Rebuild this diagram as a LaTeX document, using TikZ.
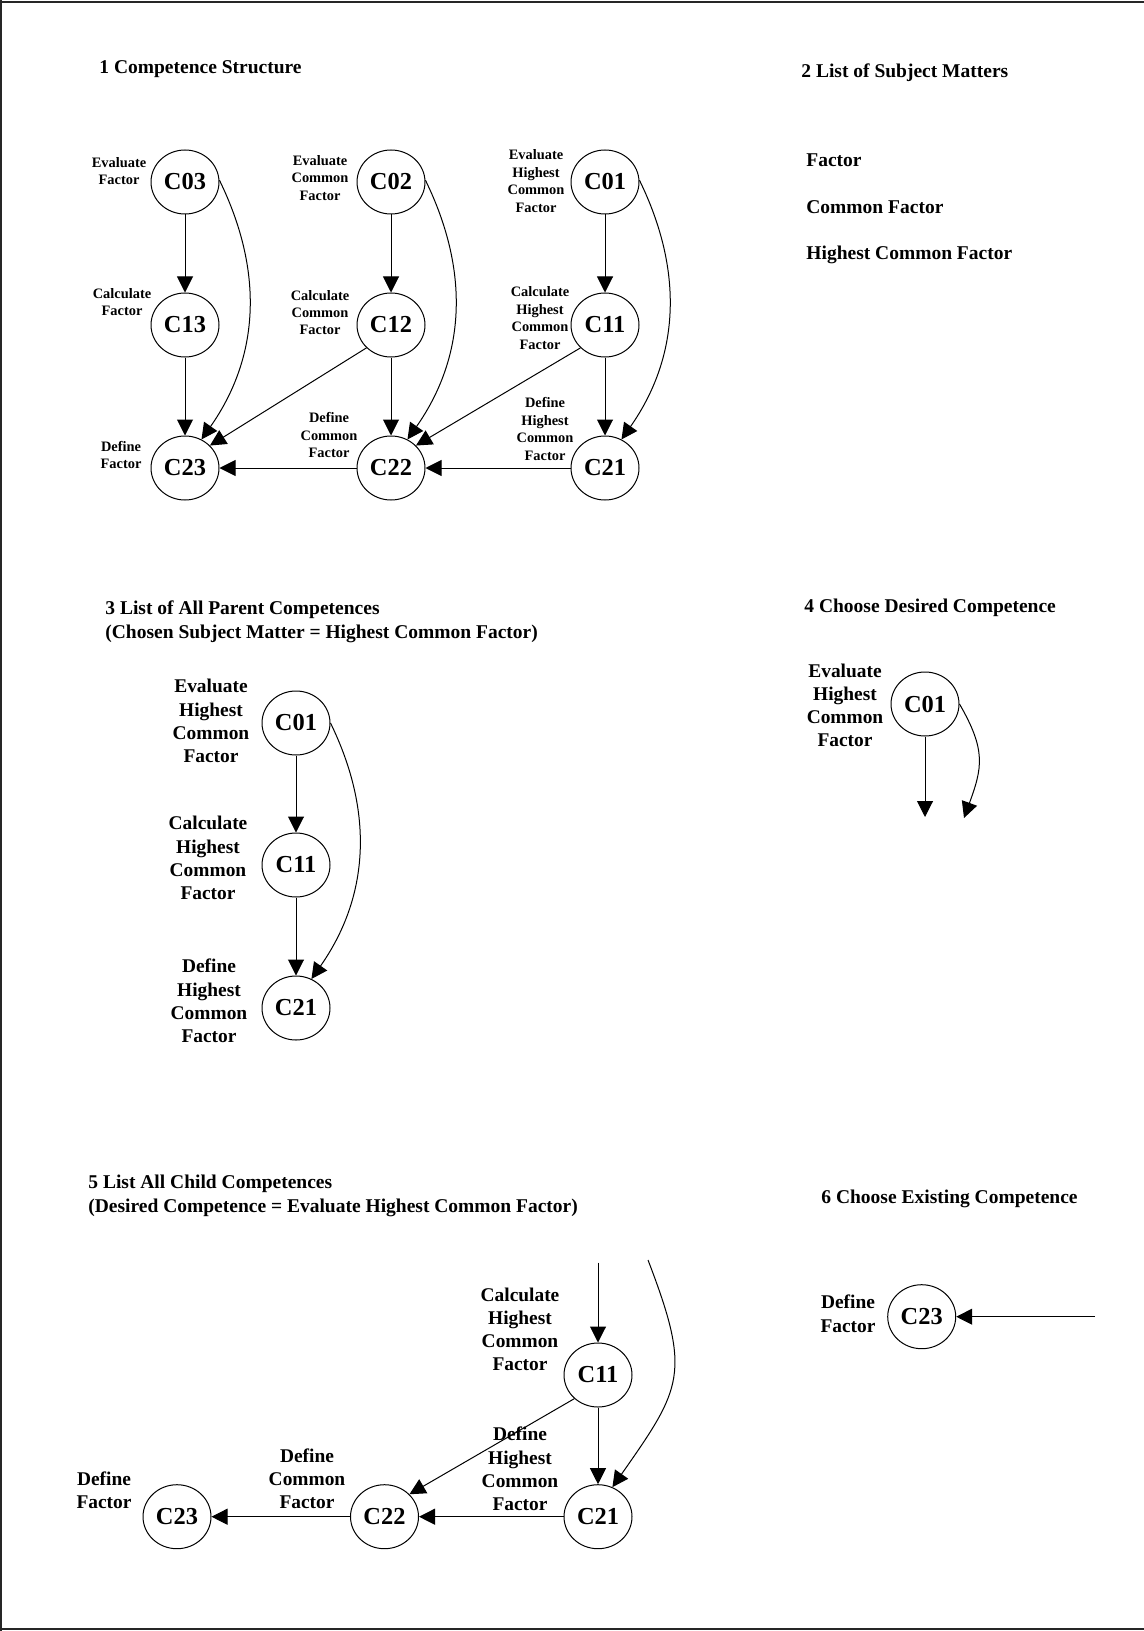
\documentclass[tikz,border=0pt]{standalone}
\usepackage{fontspec}
\setmainfont{Liberation Serif}
\usetikzlibrary{arrows.meta,shapes.geometric}

\begin{document}
\begin{tikzpicture}[x=0.5pt,y=0.5pt,
  comp/.style={ellipse, draw, line width=0.5pt, minimum width=34pt, minimum height=32pt,
    inner sep=0pt, font=\bfseries\fontsize{12.2}{14}\selectfont},
  tiny/.style={align=center, inner sep=0pt, font=\bfseries\fontsize{7.2}{8.7}\selectfont},
  lbl/.style={align=center, inner sep=0pt, font=\bfseries\fontsize{9.7}{11.6}\selectfont},
  ttl/.style={anchor=west, align=left, inner sep=0pt, yshift=-1.3pt,
    font=\bfseries\fontsize{9.75}{11.8}\selectfont},
  arr/.style={-{Triangle[length=8pt,width=8pt]}, line width=0.5pt},
  swoop/.style={arr, out=-64, in=55, looseness=1}
]
\useasboundingbox (0,0) rectangle (1144,-1631);

% page frame
\draw[line width=1pt, black!85] (0,-2.5) -- (1144,-2.5);
\draw[line width=0.6pt, black!85] (1,0) -- (1,-1631);
\draw[line width=1pt, black!85] (0,-1629) -- (1144,-1629);

% ---------- 1 Competence Structure ----------
\node[ttl] (t1) at (99,-66.5) {1 Competence Structure};

\node[comp] (a03) at (185,-182) {C03};
\node[comp] (a13) at (185,-325) {C13};
\node[comp] (a23) at (185,-468) {C23};
\node[comp] (a02) at (391,-182) {C02};
\node[comp] (a12) at (391,-325) {C12};
\node[comp] (a22) at (391,-468) {C22};
\node[comp] (a01) at (605,-182) {C01};
\node[comp] (a11) at (605,-325) {C11};
\node[comp] (a21) at (605,-468) {C21};

\node[tiny] (la03) at (119,-171) {Evaluate\\Factor};
\node[tiny] (la13) at (122,-302) {Calculate\\Factor};
\node[tiny] (la23) at (121,-455) {Define\\Factor};
\node[tiny] (la02) at (320,-178) {Evaluate\\Common\\Factor};
\node[tiny] (la12) at (320,-312.5) {Calculate\\Common\\Factor};
\node[tiny] (la22) at (329,-435) {Define\\Common\\Factor};
\node[tiny] (la01) at (536,-181) {Evaluate\\Highest\\Common\\Factor};
\node[tiny] (la11) at (540,-318) {Calculate\\Highest\\Common\\Factor};
\node[tiny] (la21) at (545,-429) {Define\\Highest\\Common\\Factor};

\draw[arr] (a03) -- (a13);
\draw[arr] (a13) -- (a23);
\draw[arr] (a02) -- (a12);
\draw[arr] (a12) -- (a22);
\draw[arr] (a01) -- (a11);
\draw[arr] (a11) -- (a21);
\draw[arr] (a22) -- (a23);
\draw[arr] (a21) -- (a22);
\draw[arr] (a12.223) -- (a23.42);
\draw[arr] (a11.223) -- (a22.42);
\draw[swoop] (a03.3) to (a23.60);
\draw[swoop] (a02.3) to (a22.60);
\draw[swoop] (a01.3) to (a21.60);

% ---------- 2 List of Subject Matters ----------
\node[ttl] (t2) at (801,-70) {2 List of Subject Matters};
\node[ttl] (m1) at (806,-158) {Factor};
\node[ttl] (m2) at (806,-205) {Common Factor};
\node[ttl] (m3) at (806,-252) {Highest Common Factor};

% ---------- 3 List of All Parent Competences ----------
\node[ttl] (t3) at (105,-619.3) {3 List of All Parent Competences\\(Chosen Subject Matter = Highest Common Factor)};
\node[comp] (b01) at (296,-723) {C01};
\node[comp] (b11) at (296,-865) {C11};
\node[comp] (b21) at (296,-1008) {C21};
\node[lbl] (lb01) at (211,-721) {Evaluate\\Highest\\Common\\Factor};
\node[lbl] (lb11) at (208,-858) {Calculate\\Highest\\Common\\Factor};
\node[lbl] (lb21) at (209,-1001) {Define\\Highest\\Common\\Factor};
\draw[arr] (b01) -- (b11);
\draw[arr] (b11) -- (b21);
\draw[swoop] (b01.0) to (b21.62);

% ---------- 4 Choose Desired Competence ----------
\node[ttl] (t4) at (804,-605) {4 Choose Desired Competence};
\node[comp] (d01) at (925,-704) {C01};
\node[lbl] (ld01) at (845,-705.5) {Evaluate\\Highest\\Common\\Factor};
\coordinate (d01s) at (925,-817);
\coordinate (d01c) at (964,-818);
\draw[arr] (d01) -- (d01s);
\draw[arr] (d01.0) to[out=-60, in=70, looseness=1.2] (d01c);

% ---------- 5 List All Child Competences ----------
\node[ttl] (t5) at (88,-1193) {5 List All Child Competences\\(Desired Competence = Evaluate Highest Common Factor)};
\node[comp] (e11) at (598,-1375) {C11};
\node[comp] (e21) at (598,-1516.7) {C21};
\node[comp] (e22) at (384.5,-1516.7) {C22};
\node[comp] (e23) at (177,-1516.7) {C23};
\coordinate (e11in) at (598,-1262.7);
\coordinate (e21in) at (648,-1260);
\draw[arr] (e11in) -- (e11);
\draw[arr] (e21in) to[out=-69, in=55, looseness=1.35] (e21.64);
\draw[arr] (e11) -- (e21);
\draw[arr] (e21) -- (e22);
\draw[arr] (e22) -- (e23);
\draw[arr] (e11.225) -- (e22.42);
\node[lbl] (le11) at (520,-1329.5) {Calculate\\Highest\\Common\\Factor};
\node[lbl] (le21) at (520,-1469) {Define\\Highest\\Common\\Factor};
\node[lbl] (le22) at (307,-1478.7) {Define\\Common\\Factor};
\node[lbl] (le23) at (104,-1490) {Define\\Factor};

% ---------- 6 Choose Existing Competence ----------
\node[ttl] (t6) at (821,-1196) {6 Choose Existing Competence};
\node[comp] (f23) at (921.7,-1316.7) {C23};
\node[lbl] (lf23) at (848,-1313.7) {Define\\Factor};
\coordinate (f23in) at (1095,-1316.7);
\draw[arr] (f23in) -- (f23);

\end{tikzpicture}
\end{document}
